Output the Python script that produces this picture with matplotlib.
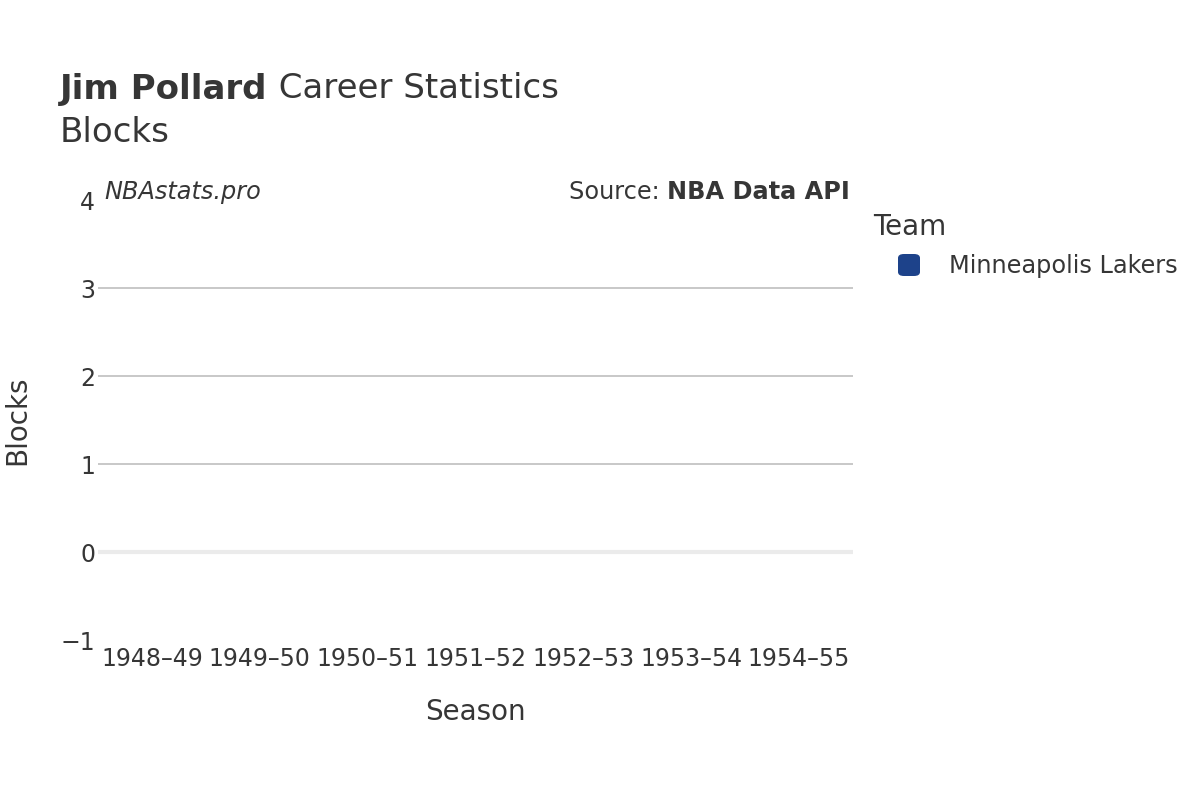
import matplotlib
matplotlib.use("Agg")
import matplotlib.pyplot as plt
from matplotlib.patches import FancyBboxPatch

seasons = ["1948–49", "1949–50", "1950–51", "1951–52", "1952–53", "1953–54", "1954–55"]
blocks = [0, 0, 0, 0, 0, 0, 0]
team = "Minneapolis Lakers"
team_color = "#1D428A"
yticks = [-1, 0, 1, 2, 3, 4]

TXT = "#363636"
plt.rcParams['font.family'] = ['DejaVu Sans']

W, H = 1200, 800
fig = plt.figure(figsize=(12, 8), dpi=100)
ax = fig.add_axes([98/W, 0.2, (853-98)/W, 0.55])

x = list(range(len(seasons)))
ax.bar(x, blocks, width=0.8, color=team_color, zorder=3, label=team)
ax.set_xlim(-0.5, len(seasons) - 0.5)
ax.set_ylim(-1, 4)
ax.set_yticks(yticks)
ax.set_yticklabels(["\u22121" if v < 0 else str(v) for v in yticks])
ax.set_xticks(x)
ax.set_xticklabels(seasons)
for s in ax.spines.values():
    s.set_visible(False)
ax.tick_params(axis='both', length=0, labelsize=17, colors=TXT)
ax.tick_params(axis='y', pad=2)
ax.tick_params(axis='x', pad=5)
for v in [1, 2, 3]:
    ax.axhline(v, color="#c4c4c4", lw=1.3, zorder=1)
ax.axhline(0, color="#ebebeb", lw=3, zorder=2)

ax.set_xlabel("Season", fontsize=20, color=TXT, va='center')
ax.xaxis.set_label_coords(0.5, -(712-640)/440)
ax.set_ylabel("Blocks", fontsize=20, color=TXT, va='center')
ax.yaxis.set_label_coords(-(98-17)/755, 0.5)

# Title
fig.canvas.draw()
r = fig.canvas.get_renderer()
t1 = fig.text(60/W, 1 - 89/H, "Jim Pollard", fontsize=24.5, fontweight='bold', color=TXT, va='center', ha='left')
bb = t1.get_window_extent(renderer=r)
fig.text(bb.x1/W, 1 - 89/H, " Career Statistics", fontsize=24.5, color=TXT, va='center', ha='left')
fig.text(60/W, 1 - 133/H, "Blocks", fontsize=24.5, color=TXT, va='center', ha='left')

# Annotations
fig.text(104/W, 1 - 192/H, "NBAstats.pro", fontsize=17.3, style='italic', color=TXT, va='center', ha='left')
t2 = fig.text(850/W, 1 - 192/H, "NBA Data API", fontsize=17.3, fontweight='bold', color=TXT, va='center', ha='right')
bb2 = t2.get_window_extent(renderer=r)
fig.text(bb2.x0/W, 1 - 192/H, "Source: ", fontsize=17.3, color=TXT, va='center', ha='right')

# Legend (drawn manually for exact placement)
fig.text(873/W, 1 - 227/H, "Team", fontsize=20, color=TXT, va='center', ha='left')
sq = 22
fig.add_artist(FancyBboxPatch(((909 - sq/2)/W, 1 - (265 + sq/2)/H), sq/W, sq/H,
                              boxstyle="round,pad=0,rounding_size=0.005",
                              transform=fig.transFigure, facecolor=team_color, edgecolor='none'))
fig.text(949/W, 1 - 266/H, team, fontsize=17.3, color=TXT, va='center', ha='left')

fig.savefig("out.png", dpi=100, facecolor="white")
